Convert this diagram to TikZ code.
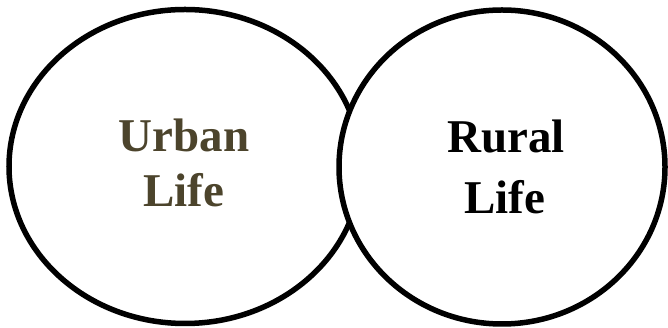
\documentclass[tikz,border=0pt]{standalone}
\usepackage{fontspec}
\setmainfont{Liberation Serif}
\usetikzlibrary{shapes.geometric}
\definecolor{urbancol}{RGB}{76,68,44}
\tikzset{
  lifering/.style={ellipse, draw=black, fill=white, line width=5.5pt, inner sep=0pt},
  lbl/.style={anchor=base, inner sep=0pt, font=\fontsize{47}{50}\selectfont\bfseries}
}
\begin{document}
\begin{tikzpicture}[x=1pt,y=1pt]
\useasboundingbox (0,0) rectangle (668,328);
\node[lifering, minimum width=352pt, minimum height=314pt] (left) at (185,161.5) {};
\node[lifering, minimum width=326pt, minimum height=314pt] (right) at (502,161) {};
\node[lbl, text=urbancol] (urban) at (184,176) {Urban};
\node[lbl, text=urbancol] (lifeA) at (184,121) {Life};
\node[lbl, text=black] (rural) at (506,175) {Rural};
\node[lbl, text=black] (lifeB) at (505,114) {Life};
\end{tikzpicture}
\end{document}
